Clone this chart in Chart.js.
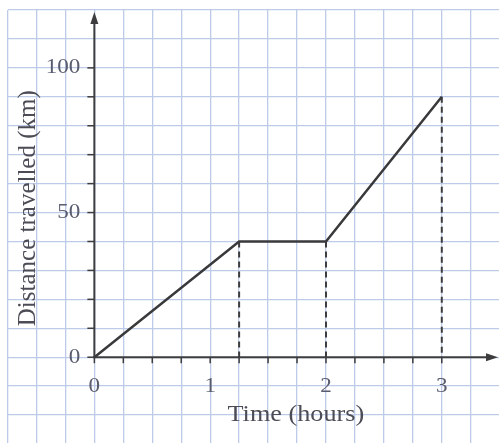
<!DOCTYPE html>
<html>
<head>
<meta charset="utf-8">
<script src="https://cdn.jsdelivr.net/npm/chart.js@4/dist/chart.umd.min.js"></script>
<style>
  html, body { margin: 0; padding: 0; background: #ffffff; }
  canvas { display: block; }
</style>
</head>
<body>
<canvas id="chart" width="499" height="443"></canvas>
<script>
// Journey: time in hours against distance travelled in km
const timeHours = [0, 1.25, 2, 3];
const distanceKm = [0, 40, 40, 90];

// Labelled ticks on the axes
const xTickValues = [0, 1, 2, 3];
const xTickLabels = ['0', '1', '2', '3'];
const yTickValues = [0, 50, 100];
const yTickLabels = ['0', '50', '100'];

// Visible range of the squared paper
const xRange = { min: -0.75, max: 3.494, step: 0.25 };
const yRange = { min: -29.65, max: 120, step: 10 };

const GRID = '#bdcbe8';
const AXIS = '#3d3d3f';
const LINE = '#3a3a3c';
const LABEL = '#585c6e';
const TITLE = '#4c4c56';
const SERIF = '"Liberation Serif", "Times New Roman", serif';

function steps(from, to, step) {
  const out = [];
  const start = Math.ceil(from / step - 1e-9);
  const end = Math.floor(to / step + 1e-9);
  for (let i = start; i <= end; i++) out.push(+(i * step).toFixed(6));
  return out;
}

const xGrid = steps(xRange.min, xRange.max, xRange.step);
const yGrid = steps(yRange.min, yRange.max, yRange.step);
const xMinorTicks = steps(0, 3, xRange.step);
const yMinorTicks = steps(0, 100, yRange.step);

const points = timeHours.map((t, i) => ({ x: t, y: distanceKm[i] }));

// Dashed drop lines from each corner of the graph down to the time axis
const dropLines = timeHours
  .map((t, i) => ({ t, d: distanceKm[i] }))
  .filter(p => p.t > 0)
  .map(p => ({
    data: [{ x: p.t, y: p.d }, { x: p.t, y: 0 }],
    showLine: true,
    borderColor: AXIS,
    borderWidth: 2,
    borderDash: [6, 4],
    pointRadius: 0,
    order: 2
  }));

function text(ctx, str, x, y, opts) {
  ctx.save();
  ctx.translate(x, y);
  if (opts.rotate) ctx.rotate(opts.rotate);
  ctx.scale(opts.sx || 1, 1);
  ctx.font = opts.size + 'px ' + SERIF;
  ctx.fillStyle = opts.color;
  ctx.textAlign = opts.align || 'center';
  ctx.textBaseline = opts.baseline || 'alphabetic';
  ctx.fillText(str, 0, 0);
  ctx.restore();
}

function seg(ctx, x1, y1, x2, y2) {
  ctx.beginPath();
  ctx.moveTo(x1, y1);
  ctx.lineTo(x2, y2);
  ctx.stroke();
}

// Axes with arrowheads, small ticks, numbers and titles
const axesOverlay = {
  id: 'axesOverlay',
  beforeDatasetsDraw(chart) {
    const { ctx, chartArea, scales: { x, y } } = chart;
    const x0 = x.getPixelForValue(0);
    const y0 = y.getPixelForValue(0);
    ctx.save();
    ctx.strokeStyle = AXIS;
    ctx.fillStyle = AXIS;
    ctx.lineCap = 'butt';

    // vertical axis
    const tipY = chartArea.top + 2;
    ctx.lineWidth = 2;
    seg(ctx, x0, y0 + 1, x0, tipY + 8);
    ctx.beginPath();
    ctx.moveTo(x0, tipY);
    ctx.lineTo(x0 - 4, tipY + 12);
    ctx.lineTo(x0 + 4, tipY + 12);
    ctx.closePath();
    ctx.fill();

    // horizontal axis
    const tipX = chartArea.right - 1;
    seg(ctx, x0 - 1, y0, tipX - 8, y0);
    ctx.beginPath();
    ctx.moveTo(tipX, y0);
    ctx.lineTo(tipX - 12, y0 - 4);
    ctx.lineTo(tipX - 12, y0 + 4);
    ctx.closePath();
    ctx.fill();

    // small ticks
    ctx.lineWidth = 1.5;
    yMinorTicks.forEach(v => {
      const py = y.getPixelForValue(v);
      seg(ctx, x0 - 7, py, x0, py);
    });
    xMinorTicks.forEach(v => {
      const px = x.getPixelForValue(v);
      seg(ctx, px, y0, px, y0 + 6);
    });
    ctx.restore();

    // tick numbers
    yTickValues.forEach((v, i) => {
      text(ctx, yTickLabels[i], x0 - 14, y.getPixelForValue(v), {
        size: 21, sx: 1.1, color: LABEL, align: 'right', baseline: 'middle'
      });
    });
    xTickValues.forEach((v, i) => {
      text(ctx, xTickLabels[i], x.getPixelForValue(v), y0 + 35, {
        size: 21, sx: 1.1, color: LABEL, align: 'center'
      });
    });

    // axis titles
    text(ctx, 'Time (hours)', x.getPixelForValue(1.74), y0 + 64, {
      size: 23, sx: 1.14, color: TITLE, align: 'center'
    });
    text(ctx, 'Distance travelled (km)', 35, y.getPixelForValue(51.5), {
      size: 25, sx: 1.0, color: TITLE, align: 'center', rotate: -Math.PI / 2
    });
  }
};

new Chart(document.getElementById('chart'), {
  type: 'scatter',
  data: {
    datasets: [
      {
        data: points,
        showLine: true,
        borderColor: LINE,
        borderWidth: 2.5,
        pointRadius: 0,
        tension: 0,
        order: 1
      },
      ...dropLines
    ]
  },
  options: {
    responsive: false,
    devicePixelRatio: 1,
    animation: false,
    layout: { padding: { left: 7.5, top: 10, right: 0, bottom: 0 } },
    plugins: { legend: { display: false }, tooltip: { enabled: false } },
    scales: {
      x: {
        type: 'linear',
        min: xRange.min,
        max: xRange.max,
        afterBuildTicks: s => { s.ticks = xGrid.map(v => ({ value: v })); },
        ticks: { display: false },
        border: { display: false },
        grid: { color: GRID, lineWidth: 1.3, drawTicks: false }
      },
      y: {
        type: 'linear',
        min: yRange.min,
        max: yRange.max,
        afterBuildTicks: s => { s.ticks = yGrid.map(v => ({ value: v })); },
        ticks: { display: false },
        border: { display: false },
        grid: { color: GRID, lineWidth: 1.3, drawTicks: false }
      }
    }
  },
  plugins: [axesOverlay]
});
</script>
</body>
</html>
